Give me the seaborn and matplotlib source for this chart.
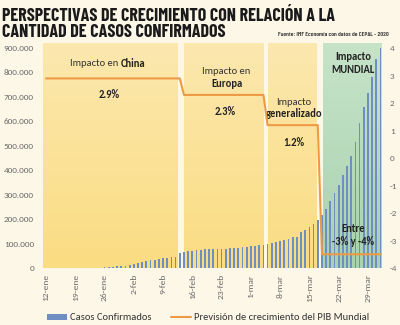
import numpy as np
import pandas as pd
import matplotlib
matplotlib.use("Agg")
import matplotlib.pyplot as plt
import seaborn as sns
from matplotlib.colors import LinearSegmentedColormap
from matplotlib.patches import Patch
from matplotlib.lines import Line2D

# ---------------- data ----------------
fechas = pd.date_range("2020-01-12", "2020-04-01", freq="D")
casos = [41, 41, 41, 41, 45, 62, 121, 198, 282, 314,
         555, 654, 941, 1434, 2118, 2927, 5578, 6166, 8234, 9927,
         12038, 16787, 19881, 23892, 27635, 30794, 34391, 37120, 40150, 42762,
         44802, 45221, 60368, 66885, 69030, 71224, 73258, 75136, 75639, 76197,
         76819, 78572, 78958, 79561, 80406, 81388, 82746, 84112, 86011, 88369,
         90306, 92840, 95120, 97886, 101801, 105847, 109821, 113590, 118620, 125875,
         128352, 145205, 156101, 167454, 181574, 197102, 214821, 242570, 272208, 304507,
         336953, 378235, 418045, 457000, 514000, 592000, 657000, 714000, 780000, 853000,
         898000]
pib = [2.9] * 33 + [2.3] * 20 + [1.2] * 13 + [-3.5] * 15

tick_labels = ["12-ene", "19-ene", "26-ene", "2-feb", "9-feb", "16-feb",
               "23-feb", "1-mar", "8-mar", "15-mar", "22-mar", "29-mar"]
left_ticks = [0, 100000, 200000, 300000, 400000, 500000, 600000, 700000, 800000, 900000]
left_labels = ["0", "100.000", "200.000", "300.000", "400.000", "500.000",
               "600.000", "700.000", "800.000", "900.000"]
right_ticks = [-4, -3, -2, -1, 0, 1, 2, 3, 4]

# phases (day index ranges) for the background bands
fase_inicio = [-0.72, 33.0, 53.2, 66.2]
fase_fin = [31.5, 52.0, 64.8, 80.2]
fase_tipo = ["amarillo", "amarillo", "amarillo", "verde"]

# ---------------- style ----------------
BG = "#FDF7E8"
BAR = "#6F8FC2"
ORANGE = "#EE9A45"
TXT = "#333333"
GRAY = "#6b6b6b"

sns.set_theme(style="white")
plt.rcParams["font.family"] = ["Carlito", "Lato", "DejaVu Sans"]

fig = plt.figure(figsize=(4.0, 3.25), dpi=100, facecolor=BG)
ax = fig.add_axes([43 / 400, 57 / 325, 340 / 400, 225 / 325])
ax.set_facecolor(BG)

df = pd.DataFrame({"fecha": [f.strftime("%Y-%m-%d") for f in fechas], "casos": casos})
sns.barplot(data=df, x="fecha", y="casos", color=BAR, saturation=1, width=0.42,
            edgecolor="none", linewidth=0, ax=ax, zorder=3)

YMAX = 918400
yellow = LinearSegmentedColormap.from_list("y", ["#FADC82", "#FCE8AE"])
green = LinearSegmentedColormap.from_list("g", ["#A8D2B0", "#C6E3C8"])
grad = np.linspace(0, 1, 64).reshape(-1, 1)
for x0, x1, t in zip(fase_inicio, fase_fin, fase_tipo):
    ax.imshow(grad, cmap=yellow if t == "amarillo" else green, origin="lower",
              extent=[x0, x1, 0, YMAX], aspect="auto", zorder=1)

ax.set_xlim(-0.72, 80.6)
ax.set_ylim(0, YMAX)
ax.set_xticks(np.arange(0, len(fechas), 7)[:len(tick_labels)])
ax.set_xticklabels(tick_labels, rotation=90)
ax.set_yticks(left_ticks)
ax.set_yticklabels(left_labels)
ax.set_xlabel("")
ax.set_ylabel("")
ax.tick_params(axis="x", length=0, pad=4.5, labelsize=6.8, labelcolor=GRAY)
ax.tick_params(axis="y", length=0, pad=6.5, labelsize=6.6, labelcolor=GRAY)
for s in ax.spines.values():
    s.set_visible(False)

ax2 = ax.twinx()
sns.lineplot(x=np.arange(len(pib)), y=pib, color=ORANGE, linewidth=1.5, ax=ax2, zorder=4)
ax2.set_ylim(-4, 4.19)
ax2.set_yticks(right_ticks)
ax2.set_yticklabels([str(v) for v in right_ticks])
ax2.tick_params(axis="y", length=0, pad=5, labelsize=6.6, labelcolor=GRAY)
ax2.set_ylabel("")
for s in ax2.spines.values():
    s.set_visible(False)
ax2.set_xlim(-0.72, 80.6)

fs = 7.6
# annotations
ax2.text(17.9, 3.46, "Impacto en ", ha="right", va="center", fontsize=fs, color=TXT)
ax2.text(17.9, 3.46, "China", ha="left", va="center", fontsize=fs, color="#222", fontweight="bold")
ax2.text(15.1, 2.31, "2.9%", ha="center", va="center", fontsize=fs, color="#222", fontweight="bold")
ax2.text(43.2, 3.17, "Impacto en", ha="center", va="center", fontsize=fs, color=TXT)
ax2.text(43.2, 2.72, "Europa", ha="center", va="center", fontsize=fs, color="#222", fontweight="bold")
ax2.text(42.8, 1.69, "2.3%", ha="center", va="center", fontsize=fs, color="#222", fontweight="bold")
ax2.text(59.3, 2.04, "Impacto", ha="center", va="center", fontsize=fs, color=TXT)
ax2.text(59.3, 1.61, "generalizado", ha="center", va="center", fontsize=fs, color="#222", fontweight="bold")
ax2.text(59.2, 0.58, "1.2%", ha="center", va="center", fontsize=fs, color="#222", fontweight="bold")
ax2.text(73.4, 3.69, "Impacto", ha="center", va="center", fontsize=fs, color="#222", fontweight="bold")
ax2.text(73.4, 3.24, "MUNDIAL", ha="center", va="center", fontsize=fs, color="#222", fontweight="bold")
ax2.text(73.5, -2.58, "Entre", ha="center", va="center", fontsize=fs, color="#222", fontweight="bold")
ax2.text(73.5, -3.04, "-3% y -4%", ha="center", va="center", fontsize=fs, color="#222", fontweight="bold")

# title & source
tfam = ["Barlow Condensed", "DejaVu Sans"]
fig.text(0.005, (325 - 20.7) / 325, "PERSPECTIVAS DE CRECIMIENTO CON RELACIÓN A LA",
         family=tfam, fontweight="bold", fontsize=13, color="#1a1a1a", va="baseline", ha="left")
fig.text(0.005, (325 - 36.9) / 325, "CANTIDAD DE CASOS CONFIRMADOS",
         family=tfam, fontweight="bold", fontsize=13, color="#1a1a1a", va="baseline", ha="left")
fig.text(389 / 400, (325 - 36.5) / 325, "Fuente: IMF Economía con datos de CEPAL - 2020",
         family=tfam, fontweight="semibold", fontsize=4.6, color="#333", va="baseline", ha="right")

handles = [Patch(facecolor=BAR, edgecolor="none"),
           Line2D([0], [0], color=ORANGE, linewidth=1.5)]
fig.legend(handles, ["Casos Confirmados", "Previsión de crecimiento del PIB Mundial"],
           loc="center", bbox_to_anchor=(0.52, (325 - 318) / 325), ncol=2, frameon=False,
           fontsize=7.6, handlelength=1.9, handleheight=0.5, handletextpad=0.25,
           columnspacing=1.9, labelcolor=TXT, borderaxespad=0, borderpad=0)

fig.savefig("out.png", dpi=100, facecolor=BG)
